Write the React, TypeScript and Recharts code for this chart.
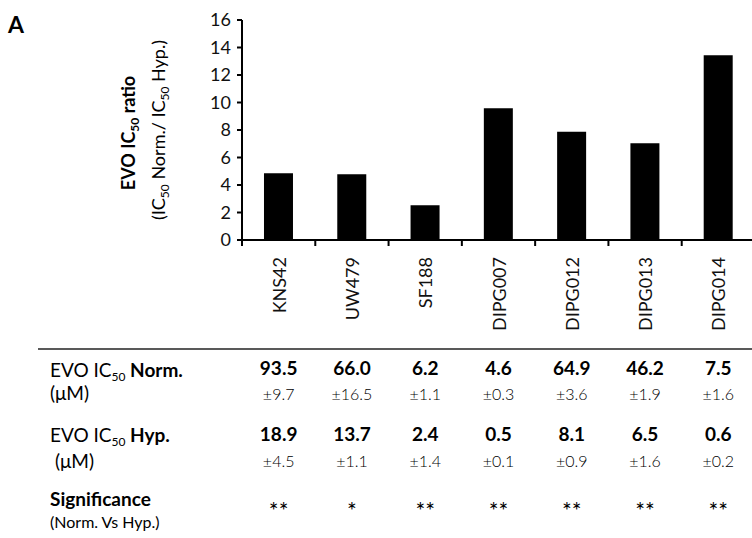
import React from "react";
import { BarChart, Bar, XAxis, YAxis } from "recharts";

const CATEGORIES = ["KNS42", "UW479", "SF188", "DIPG007", "DIPG012", "DIPG013", "DIPG014"];
const RATIO = [4.85, 4.78, 2.52, 9.58, 7.88, 7.03, 13.43];
const Y_TICKS = [0, 2, 4, 6, 8, 10, 12, 14, 16];

const NORM = [93.5, 66.0, 6.2, 4.6, 64.9, 46.2, 7.5];
const NORM_SD = [9.7, 16.5, 1.1, 0.3, 3.6, 1.9, 1.6];
const HYP = [18.9, 13.7, 2.4, 0.5, 8.1, 6.5, 0.6];
const HYP_SD = [4.5, 1.1, 1.4, 0.1, 0.9, 1.6, 0.2];
const SIGNIFICANCE = ["**", "*", "**", "**", "**", "**", "**"];

const data = CATEGORIES.map((name, i) => ({ name, ratio: RATIO[i] }));

const FONT = "Lato, 'Open Sans', sans-serif";
const TICK_SIZE = 6;
const TICK_MARGIN = 0;

const XTick = (props: any) => {
  const { x, y, payload, index } = props;
  const axisY = y - TICK_SIZE - TICK_MARGIN;
  const half = payload && payload.offset ? payload.offset : (755 - 242) / CATEGORIES.length / 2;
  const last = index === CATEGORIES.length - 1;
  return (
    <g fontFamily={FONT}>
      <line x1={x - half} y1={axisY} x2={x - half} y2={axisY + 6} stroke="#000" strokeWidth={2} />
      {last && (
        <line x1={x + half} y1={axisY} x2={x + half} y2={axisY + 6} stroke="#000" strokeWidth={2} />
      )}
      <text
        transform={`translate(${x + 7},${axisY + 17}) rotate(-90)`}
        textAnchor="end"
        fontSize={18}
        fill="#111"
      >
        {payload.value}
      </text>
      <text x={x} y={axisY + 135} textAnchor="middle" fontSize={19} fontWeight={700} fill="#000">
        {NORM[index].toFixed(1)}
      </text>
      <text x={x} y={axisY + 160} textAnchor="middle" fontSize={16} fontWeight={300} fill="#000">
        ±{NORM_SD[index].toFixed(1)}
      </text>
      <text x={x} y={axisY + 201} textAnchor="middle" fontSize={19} fontWeight={700} fill="#000">
        {HYP[index].toFixed(1)}
      </text>
      <text x={x} y={axisY + 227} textAnchor="middle" fontSize={16} fontWeight={300} fill="#000">
        ±{HYP_SD[index].toFixed(1)}
      </text>
      <text x={x} y={axisY + 279} textAnchor="middle" fontSize={23} fill="#000">
        {SIGNIFICANCE[index]}
      </text>
    </g>
  );
};

const YTitle = (props: any) => {
  const vb = props.viewBox || { x: 0, y: 20, width: 242, height: 220 };
  const cy = vb.y + vb.height / 2;
  return (
    <g fontFamily={FONT} fill="#000">
      <text transform={`translate(135,${cy + 3}) rotate(-90)`} textAnchor="middle" fontSize={18} fontWeight={700}>
        EVO IC
        <tspan dy={4} fontSize={12}>50</tspan>
        <tspan dy={-4}> ratio</tspan>
      </text>
      <text transform={`translate(165,${cy}) rotate(-90)`} textAnchor="middle" fontSize={18}>
        (IC
        <tspan dy={4} fontSize={12}>50</tspan>
        <tspan dy={-4}> Norm./ IC</tspan>
        <tspan dy={4} fontSize={12}>50</tspan>
        <tspan dy={-4}> Hyp.)</tspan>
      </text>
    </g>
  );
};

export default function App() {
  return (
    <div style={{ position: "absolute", left: 0, top: 0, width: 752, height: 538, overflow: "hidden", background: "#fff" }}>
      <BarChart
        width={755}
        height={538}
        data={data}
        margin={{ top: 20, right: 0, left: 0, bottom: 0 }}
        barCategoryGap="30%"
      >
        <XAxis
          dataKey="name"
          height={298}
          interval={0}
          tickLine={false}
          tickSize={TICK_SIZE}
          tickMargin={TICK_MARGIN}
          axisLine={{ stroke: "#000", strokeWidth: 2 }}
          tick={<XTick />}
        />
        <YAxis
          width={242}
          domain={[0, 16]}
          ticks={Y_TICKS}
          interval={0}
          tickSize={5}
          tickMargin={6}
          axisLine={{ stroke: "#000", strokeWidth: 2 }}
          tickLine={{ stroke: "#000", strokeWidth: 2 }}
          tick={{ fill: "#111", fontSize: 18, fontFamily: FONT }}
          label={<YTitle />}
        />
        <Bar dataKey="ratio" fill="#000" isAnimationActive={false} />
      </BarChart>
      <svg
        width={752}
        height={538}
        style={{ position: "absolute", left: 0, top: 0, pointerEvents: "none" }}
        fontFamily={FONT}
      >
        <text x={8} y={33} fontSize={23} fontWeight={700} fill="#000">
          A
        </text>
        <line x1={38} y1={349} x2={752} y2={349} stroke="#222" strokeWidth={1.5} />
        <g fontSize={19} fill="#000">
          <text x={50} y={377}>
            EVO IC
            <tspan dy={4} fontSize={12}>50</tspan>
            <tspan dy={-4} fontWeight={700}> Norm.</tspan>
          </text>
          <text x={50} y={400}>(μM)</text>
          <text x={50} y={442}>
            EVO IC
            <tspan dy={4} fontSize={12}>50</tspan>
            <tspan dy={-4} fontWeight={700}> Hyp.</tspan>
          </text>
          <text x={55} y={468}>(μM)</text>
          <text x={50} y={506} fontWeight={700}>
            Significance
          </text>
          <text x={50} y={528} fontSize={16}>
            (Norm. Vs Hyp.)
          </text>
        </g>
      </svg>
    </div>
  );
}
